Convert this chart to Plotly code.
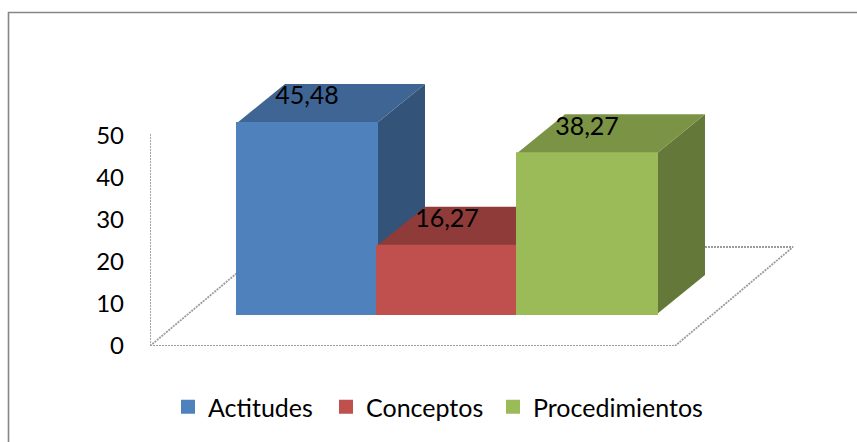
import plotly.graph_objects as go

categories = ["Actitudes", "Conceptos", "Procedimientos"]
values = [45.48, 16.27, 38.27]
y_ticks = [0, 10, 20, 30, 40, 50]
front_colors = ["#4F81BD", "#C0504D", "#9BBB59"]
top_colors = ["#3F6594", "#8F3B39", "#7A9345"]
side_colors = ["#335378", "#7A3230", "#64783A"]

W, H = 857, 442
PL, PR, PT, PB = 150, 800, 60, 346
PX_X = 140.0   # px per category
PX_Y = 4.2     # px per value unit
X0 = 307       # pixel of category 0
xr = [(PL - X0) / PX_X, (PR - X0) / PX_X]
yr = [0, (PB - PT) / PX_Y]

base = 32 / PX_Y
depth_x, depth_y = 48 / PX_X, 39 / PX_Y
floor_dx, floor_dy = 118 / PX_X, 99 / PX_Y
floor_right = (675 - X0) / PX_X
GRID = dict(color="#9C9C9C", width=1.8, dash="2px,1px")
LEGEND_LEFT = [168, 326, 493]
LEGEND_IDS = ["legend", "legend2", "legend3"]

fig = go.Figure()

# floor and wall lines
fig.add_trace(go.Scatter(x=[xr[0], floor_right, floor_right + floor_dx, xr[0] + floor_dx, xr[0]],
                         y=[0, 0, floor_dy, floor_dy, 0], mode="lines", line=GRID,
                         showlegend=False, hoverinfo="skip", cliponaxis=False))
fig.add_trace(go.Scatter(x=[xr[0], xr[0]], y=[0, 50.7], mode="lines", line=GRID,
                         showlegend=False, hoverinfo="skip", cliponaxis=False))

# depth faces
for i, v in enumerate(values):
    l, r, t = i - 0.5, i + 0.5, base + v
    fig.add_trace(go.Scatter(x=[r, r + depth_x, r + depth_x, r, r],
                             y=[base, base + depth_y, t + depth_y, t, base],
                             mode="lines", fill="toself", fillcolor=side_colors[i],
                             line=dict(width=0), showlegend=False, hoverinfo="skip"))
    fig.add_trace(go.Scatter(x=[l, l + depth_x, r + depth_x, r, l],
                             y=[t, t + depth_y, t + depth_y, t, t],
                             mode="lines", fill="toself", fillcolor=top_colors[i],
                             line=dict(width=0), showlegend=False, hoverinfo="skip"))

# front faces on an overlaid subplot so they sit above the depth faces
for i, (c, v) in enumerate(zip(categories, values)):
    fig.add_trace(go.Bar(x=[i], y=[v], base=[base], width=[1], name=c, xaxis="x2", yaxis="y2",
                         legend=LEGEND_IDS[i], showlegend=True,
                         marker=dict(color=front_colors[i], line=dict(color=front_colors[i], width=2))))

fig.add_trace(go.Scatter(x=list(range(3)), y=[base + v + 25 / PX_Y for v in values],
                         text=[f"{v:.2f}".replace(".", ",") for v in values],
                         mode="text", textposition="middle center", xaxis="x2", yaxis="y2",
                         textfont=dict(size=25, color="#000000"), showlegend=False, hoverinfo="skip"))

hidden = dict(visible=False, fixedrange=True)
def px(x):
    return (x - PL) / (PR - PL)
def py(y):
    return (PB - y) / (PB - PT)
BORDER = dict(color="#868686", width=1.6)
legends = {lid: dict(orientation="h", x=left / W, xref="container", xanchor="left",
                     y=1 - 407 / H, yref="container", yanchor="middle",
                     font=dict(size=25), bgcolor="rgba(0,0,0,0)")
           for lid, left in zip(LEGEND_IDS, LEGEND_LEFT)}
fig.update_layout(
    width=W, height=H, barmode="overlay",
    margin=dict(l=PL, r=W - PR, t=PT, b=H - PB, autoexpand=False),
    paper_bgcolor="#FFFFFF", plot_bgcolor="rgba(0,0,0,0)",
    font=dict(family="Lato, Carlito, sans-serif", size=24, color="#000000"),
    xaxis=dict(range=xr, **hidden),
    yaxis=dict(range=yr, tickvals=y_ticks, showgrid=False, zeroline=False, showline=False,
               ticklabelstandoff=25, ticks="", fixedrange=True),
    xaxis2=dict(range=xr, overlaying="x", **hidden),
    yaxis2=dict(range=yr, overlaying="y", **hidden),
    shapes=[dict(type="line", xref="paper", yref="paper", x0=px(8), x1=px(W), y0=py(12.5), y1=py(12.5),
                 line=BORDER, layer="below"),
            dict(type="line", xref="paper", yref="paper", x0=px(8.5), x1=px(8.5), y0=py(12), y1=py(H),
                 line=BORDER, layer="below")],
    **legends,
)
fig.write_html("out.html", config={"displayModeBar": False},
               post_script="document.body.style.margin='0';")
